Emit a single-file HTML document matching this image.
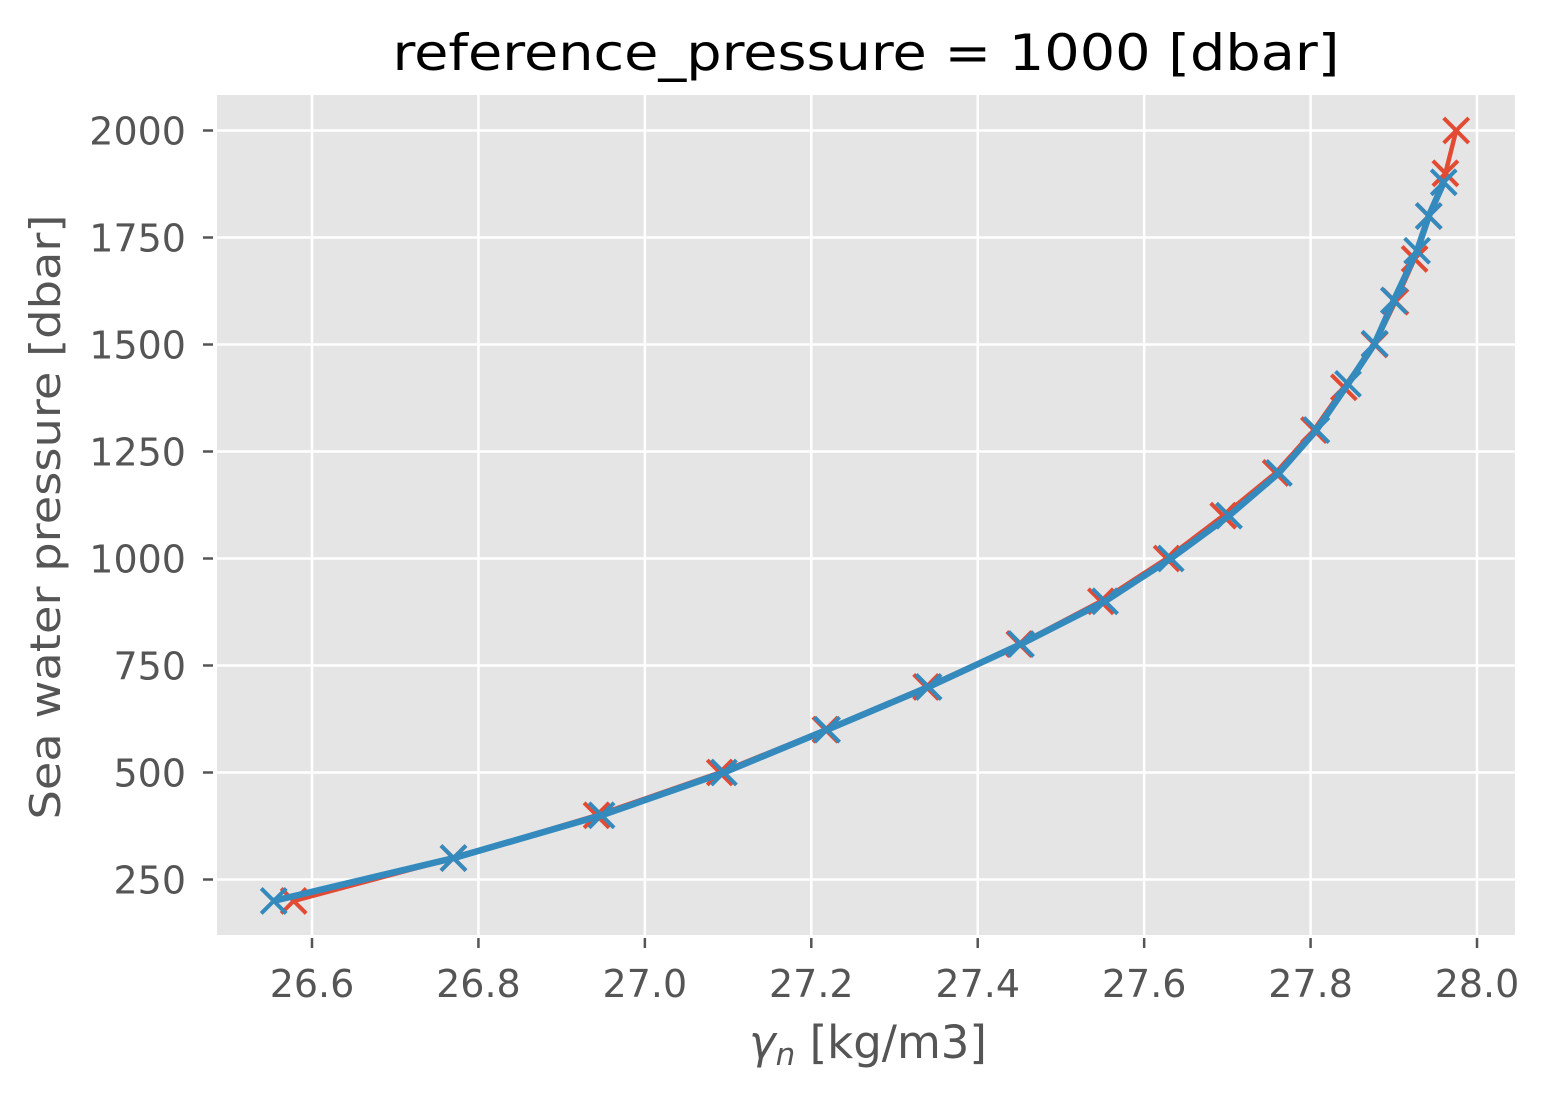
<!DOCTYPE html>
<html><head><meta charset="utf-8"><style>
html,body{margin:0;padding:0;background:#fff}
svg{display:block;font-family:"DejaVu Sans","Liberation Sans",sans-serif}
</style></head><body>
<svg id="chart" width="1547" height="1096" viewBox="0 0 1547 1096">
<rect x="217" y="95" width="1298" height="840" fill="#E5E5E5"/>
<g id="grid"></g>
<g id="ticks"></g>
<g id="series"></g>
<text x="866" y="70" font-size="50" fill="#000" text-anchor="middle" textLength="947" lengthAdjust="spacingAndGlyphs">reference_pressure = 1000 [dbar]</text>
<text x="868" y="1058" font-size="45" fill="#555" text-anchor="middle"><tspan font-style="italic">γ</tspan><tspan font-style="italic" font-size="31" dy="7">n</tspan><tspan dy="-7"> [kg/m3]</tspan></text>
<text transform="translate(60,517) rotate(-90)" font-size="42" fill="#555" text-anchor="middle" textLength="605" lengthAdjust="spacingAndGlyphs">Sea water pressure [dbar]</text>
</svg>
<script>
const xTicks = [26.6, 26.8, 27.0, 27.2, 27.4, 27.6, 27.8, 28.0];
const xTickLabels = ["26.6","26.8","27.0","27.2","27.4","27.6","27.8","28.0"];
const yTicks = [250, 500, 750, 1000, 1250, 1500, 1750, 2000];
const yTickLabels = ["250","500","750","1000","1250","1500","1750","2000"];
const redP = [200,300,400,500,600,700,800,900,1000,1100,1200,1300,1400,1500,1600,1700,1800,1900,2000];
const redG = [26.578,26.770,26.942,27.090,27.217,27.338,27.450,27.548,27.627,27.695,27.758,27.804,27.840,27.877,27.902,27.925,27.942,27.962,27.975];
const blueP = [200,300,400,500,600,700,800,900,1000,1100,1200,1300,1408,1502,1603,1719,1800,1879];
const blueG = [26.554,26.770,26.948,27.095,27.219,27.341,27.452,27.553,27.632,27.702,27.762,27.807,27.845,27.877,27.900,27.928,27.942,27.960];

function xs(v){return 312 + (v-26.6)/0.2*166.43;}
function ys(v){return 130.5 + (2000-v)/250*107;}
const NS='http://www.w3.org/2000/svg';
function mk(tag, attrs, parent){const e=document.createElementNS(NS,tag);for(const k in attrs)e.setAttribute(k,attrs[k]);parent.appendChild(e);return e;}
const grid=document.getElementById('grid'), ticks=document.getElementById('ticks'), series=document.getElementById('series');
xTicks.forEach((t,i)=>{
  const x=xs(t);
  const g=mk('line',{x1:x,x2:x,y1:95,y2:935,stroke:'#fff','stroke-width':2.5},grid);
  
  
  const tk=mk('line',{x1:x,x2:x,y1:938,y2:948,stroke:'#555','stroke-width':2.5},ticks);
  
  
  const lb=mk('text',{x:x,y:997,'font-size':38,fill:'#555','text-anchor':'middle'},ticks);
  lb.textContent=xTickLabels[i];
  
  
});
yTicks.forEach((t,i)=>{
  const y=ys(t);
  const g=mk('line',{x1:217,x2:1515,y1:y,y2:y,stroke:'#fff','stroke-width':2.5},grid);
  
  
  const tk=mk('line',{x1:203,x2:213,y1:y,y2:y,stroke:'#555','stroke-width':2.5},ticks);
  
  
  const lb=mk('text',{x:186,y:y+14,'font-size':38,fill:'#555','text-anchor':'end'},ticks);
  lb.textContent=yTickLabels[i];
  
  
});
function drawSeries(G,P,color,w,name){
  const pts=G.map((g,i)=>xs(g)+','+ys(P[i])).join(' ');
  const pl=mk('polyline',{points:pts,fill:'none',stroke:color,'stroke-width':w,'stroke-linejoin':'round'},series);
  
  
  G.forEach((g,i)=>{
    const x=xs(g),y=ys(P[i]),s=12.5;
    const m=mk('path',{d:`M${x-s},${y-s}L${x+s},${y+s}M${x-s},${y+s}L${x+s},${y-s}`,stroke:color,'stroke-width':4,fill:'none'},series);
    
    
  });
}
drawSeries(redG,redP,'#E24A33',4.5,'red-series');
drawSeries(blueG,blueP,'#348ABD',6.5,'blue-series');
</script>
</body></html>
